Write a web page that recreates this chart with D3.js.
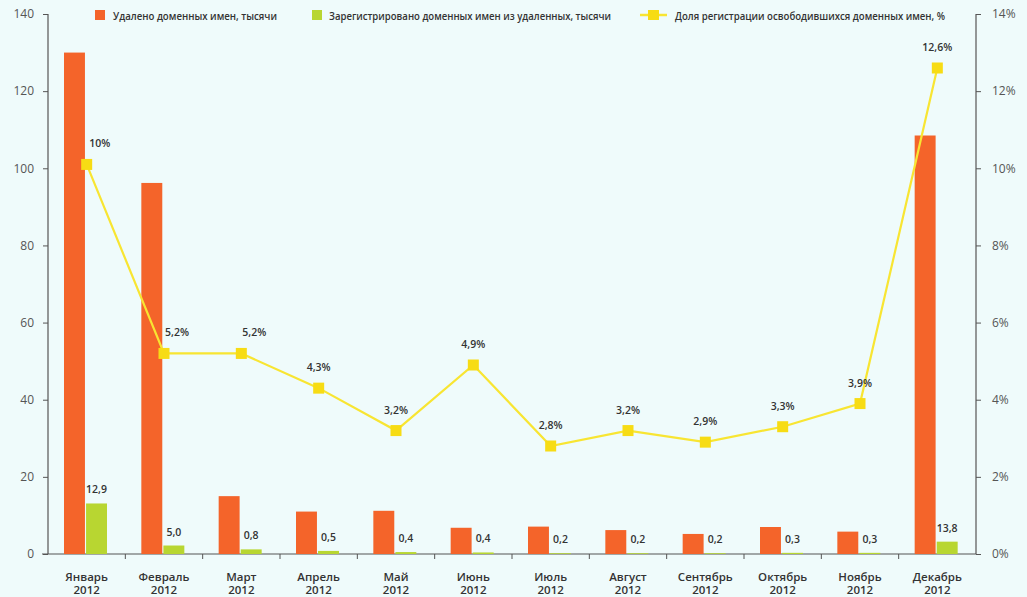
<!DOCTYPE html>
<html><head><meta charset="utf-8">
<script src="https://cdn.jsdelivr.net/npm/d3@7"></script>
<style>
html,body{margin:0;padding:0;background:#effbfb;}
svg{display:block;font-family:"Open Sans",sans-serif;}
</style></head>
<body><svg id="c" width="1027" height="597"></svg>
<script>
const months = ["Январь","Февраль","Март","Апрель","Май","Июнь","Июль","Август","Сентябрь","Октябрь","Ноябрь","Декабрь"];
const year = "2012";
const deleted = [130, 96.2, 15.0, 11.0, 11.2, 6.8, 7.1, 6.2, 5.2, 7.0, 5.8, 108.5];
const registeredBars = [13.1, 2.2, 1.2, 0.8, 0.5, 0.4, 0.2, 0.2, 0.2, 0.3, 0.3, 3.2];
const registeredLabels = ["12,9","5,0","0,8","0,5","0,4","0,4","0,2","0,2","0,2","0,3","0,3","13,8"];
const share = [10.1, 5.2, 5.2, 4.3, 3.2, 4.9, 2.8, 3.2, 2.9, 3.3, 3.9, 12.6];
const shareLabels = ["10%","5,2%","5,2%","4,3%","3,2%","4,9%","2,8%","3,2%","2,9%","3,3%","3,9%","12,6%"];
const leftTicks = [0,20,40,60,80,100,120,140];
const rightTicks = [0,2,4,6,8,10,12,14];
const legendLabels = ["Удалено доменных имен, тысячи","Зарегистрировано доменных имен из удаленных, тысячи","Доля регистрации освободившихся доменных имен, %"];

const C = {orange:"#f4642a", green:"#b8d631", yellow:"#f8e532", marker:"#f7dc14", axis:"#555", text:"#333"};
const L = 48, R = 976, T = 14, B = 554;
const svg = d3.select("#c");

const x = d3.scaleBand().domain(months).range([L, R]);
const x1 = d3.scaleBand().domain(["d","r"]).range([16, 59]).paddingInner(0.05);
const yL = d3.scaleLinear().domain([0,140]).range([B, T]);
const yR = d3.scaleLinear().domain([0,14]).range([B, T]);

// axes
const gl = svg.append("g").attr("transform",`translate(${L},0)`)
  .call(d3.axisLeft(yL).tickValues(leftTicks).tickSize(5).tickPadding(9));
const gr = svg.append("g").attr("transform",`translate(${R},0)`)
  .call(d3.axisRight(yR).tickValues(rightTicks).tickSize(5).tickPadding(11).tickFormat(d=>d+"%"));
[gl,gr].forEach(g=>{
  g.select(".domain").attr("stroke",C.axis).attr("stroke-width",1.2);
  g.selectAll(".tick line").attr("stroke",C.axis);
  g.selectAll("text").attr("fill","#555").style("font-size","12px").style("font-family","Open Sans, sans-serif");
});
gl.select(".domain").attr("d",`M0,${T}V${B}`);
gr.select(".domain").attr("d",`M0,${T}V${B}`);

// bottom axis
const gb = svg.append("g").attr("transform",`translate(0,${B})`);
gb.append("line").attr("x1",L-6).attr("x2",R).attr("stroke",C.axis).attr("stroke-width",1.2);
gb.selectAll("line.t").data(months.slice(1)).enter().append("line").attr("class","t")
  .attr("x1",d=>x(d)).attr("x2",d=>x(d)).attr("y1",0).attr("y2",5).attr("stroke",C.axis);
const ml = gb.selectAll("text.m").data(months).enter().append("text").attr("class","m")
  .attr("x",d=>x(d)+x.bandwidth()/2).attr("text-anchor","middle")
  .attr("fill",C.text).style("font-size","11.5px").style("font-weight",600);
ml.append("tspan").attr("x",d=>x(d)+x.bandwidth()/2).attr("y",27).text(d=>d);
ml.append("tspan").attr("x",d=>x(d)+x.bandwidth()/2).attr("y",40).text(year);

// bars
svg.append("g").selectAll("rect").data(deleted).enter().append("rect")
  .attr("x",(d,i)=>x(months[i])+x1("d")).attr("width",x1.bandwidth())
  .attr("y",d=>yL(d)).attr("height",d=>B-yL(d)).attr("fill",C.orange);
svg.append("g").selectAll("rect").data(registeredBars).enter().append("rect")
  .attr("x",(d,i)=>x(months[i])+x1("r")).attr("width",x1.bandwidth())
  .attr("y",d=>yL(d)).attr("height",d=>B-yL(d)).attr("fill",C.green);
svg.append("g").selectAll("text").data(registeredBars).enter().append("text")
  .attr("x",(d,i)=>x(months[i])+x1("r")+x1.bandwidth()/2)
  .attr("y",d=>yL(d)-10).attr("text-anchor","middle")
  .attr("fill",C.text).style("font-size","10.5px").style("font-weight",600)
  .text((d,i)=>registeredLabels[i]);

// line
const cx = (i)=>x(months[i])+x.bandwidth()/2;
svg.append("path").datum(share)
  .attr("d",d3.line().x((d,i)=>cx(i)).y(d=>yR(d)))
  .attr("fill","none").attr("stroke",C.yellow).attr("stroke-width",2.2);
svg.append("g").selectAll("rect").data(share).enter().append("rect")
  .attr("x",(d,i)=>cx(i)-5.5).attr("y",d=>yR(d)-5.5).attr("width",11).attr("height",11)
  .attr("fill",C.marker);
svg.append("g").selectAll("text").data(share).enter().append("text")
  .attr("x",(d,i)=>cx(i)+(i<3?13:0)).attr("y",d=>yR(d)-17).attr("text-anchor","middle")
  .attr("fill",C.text).style("font-size","10.5px").style("font-weight",600)
  .text((d,i)=>shareLabels[i]);

// legend
const lg = svg.append("g");
lg.append("rect").attr("x",95).attr("y",10).attr("width",10).attr("height",10).attr("fill",C.orange);
lg.append("text").attr("x",113).attr("y",19.5).attr("textLength",164).text(legendLabels[0]);
lg.append("rect").attr("x",312).attr("y",10).attr("width",10).attr("height",10).attr("fill",C.green);
lg.append("text").attr("x",329).attr("y",19.5).attr("textLength",282).text(legendLabels[1]);
lg.append("line").attr("x1",640).attr("x2",667).attr("y1",15).attr("y2",15).attr("stroke",C.yellow).attr("stroke-width",2.5);
lg.append("rect").attr("x",648).attr("y",10).attr("width",11).attr("height",10).attr("fill",C.marker);
lg.append("text").attr("x",675).attr("y",19.5).attr("textLength",270).text(legendLabels[2]);
lg.selectAll("text").attr("fill",C.text).attr("lengthAdjust","spacingAndGlyphs").style("font-size","11px").style("font-weight",600);
</script></body></html>
